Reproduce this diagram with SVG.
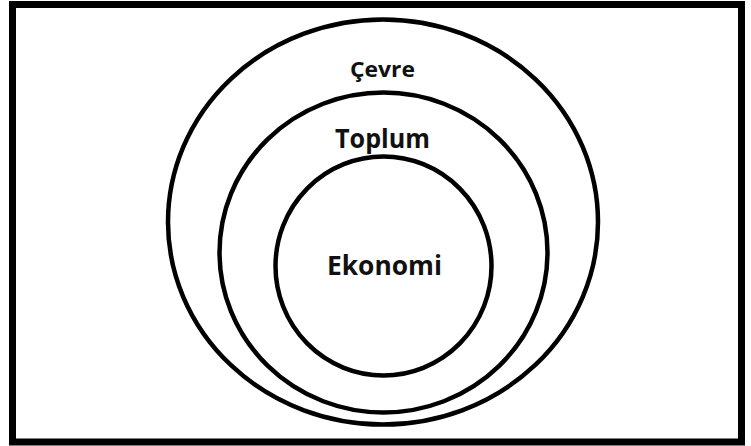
<svg xmlns="http://www.w3.org/2000/svg" width="751" height="446" viewBox="0 0 751 446">
<style>
.ring{fill:none;stroke:#000;stroke-width:4.5}
.lbl{font-family:"Open Sans","Noto Sans","Liberation Sans",sans-serif;font-weight:bold;fill:#111;text-anchor:middle}
</style>
<rect x="0" y="0" width="751" height="446" fill="#fff"/>
<rect id="frame" x="12.5" y="4.5" width="729" height="437.5" fill="none" stroke="#000" stroke-width="7"/>
<g id="cevre">
<ellipse class="ring" cx="383" cy="222" rx="215" ry="202.5"/>
<text class="lbl" x="382.5" y="77" font-size="21" textLength="65" lengthAdjust="spacingAndGlyphs">Çevre</text>
</g>
<g id="toplum">
<ellipse class="ring" cx="383.5" cy="252.5" rx="164" ry="160"/>
<text class="lbl" x="382.5" y="148" font-size="27" textLength="95" lengthAdjust="spacingAndGlyphs">Toplum</text>
</g>
<g id="ekonomi">
<ellipse class="ring" cx="383.5" cy="266" rx="108" ry="109.5"/>
<text class="lbl" x="384.5" y="275" font-size="26" textLength="115" lengthAdjust="spacingAndGlyphs">Ekonomi</text>
</g>
<g id="connectors"></g>
</svg>
